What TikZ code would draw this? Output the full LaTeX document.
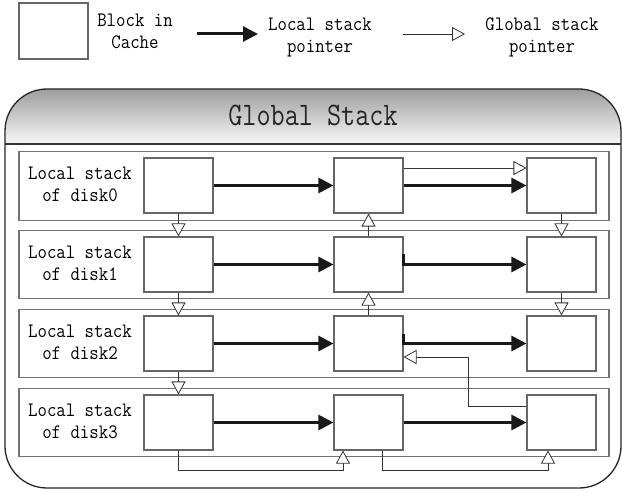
\documentclass[tikz,border=0pt]{standalone}
\usepackage{fontspec}
\usepackage{graphicx}
\usetikzlibrary{arrows.meta,calc}

% slightly taller glyphs for the narrow monospace look
\newcommand{\tallline}[1]{\scalebox{1}[1.12]{#1}}

\begin{document}
\begin{tikzpicture}[x=1pt,y=-1pt,
  block/.style={draw=black!60, line width=1.1pt, fill=white,
    minimum width=69pt, minimum height=55pt, inner sep=0pt},
  rowbox/.style={draw=black!55, line width=1.4pt,
    minimum width=590pt, minimum height=68.5pt, inner sep=0pt},
  lbl/.style={font=\fontsize{18.3}{22.5}\selectfont\ttfamily, align=center,
    text=black, inner sep=0pt},
  lptr/.style={line width=3pt, black!90, -{Triangle[width=15pt,length=15pt]}},
  gptr/.style={line width=0.8pt, black!80,
    -{Triangle[open, width=14pt, length=13pt, fill=white]}},
]
\useasboundingbox (0,0) rectangle (622,492);

% ---- legend ----
\node[block, minimum height=56pt] (key) at (53.5,31) {};
\node[lbl, anchor=base] (keytxt) at (135,49) {\tallline{Block in}\\\tallline{Cache}};
\coordinate (la0) at (197,34);
\coordinate (la1) at (258,34);
\draw[lptr] (la0) -- (la1);
\node[lbl, anchor=base] (lsp) at (320,53) {\tallline{Local stack}\\\tallline{pointer}};
\coordinate (ga0) at (403,34);
\coordinate (ga1) at (465,34);
\draw[gptr] (ga0) -- (ga1);
\node[lbl, anchor=base] (gsp) at (542,53) {\tallline{Global stack}\\\tallline{pointer}};

% ---- global stack frame with shaded header ----
\begin{scope}
  \clip[rounded corners=42pt] (5,89) rectangle (621,488);
  \shade[top color=black!38, bottom color=black!3] (5,89) rectangle (621,144);
\end{scope}
\draw[black!85, line width=1.3pt, rounded corners=42pt] (5,89) rectangle (621,488);
\draw[black!80, line width=1.3pt] (5,144) -- (621,144);
\node[font=\fontsize{27.4}{30}\selectfont\ttfamily, text=black!85] (title)
  at (313,115) {\scalebox{1}[1.2]{Global Stack}};

% ---- one row per disk ----
\foreach \r/\y in {0/186,1/264.5,2/343.5,3/422.5}{
  \node[rowbox] (row\r) at (314,\y) {};
  \node[lbl, anchor=base] (lab\r) at (80,\y+16) {\tallline{Local stack}\\\tallline{of disk\r}};
}

% ---- cached blocks ----
\foreach \r/\y in {0/185.5,1/264.5,2/343.5,3/422.5}
  \foreach \c/\x in {0/178.5,1/368.5,2/561.5}
    \node[block] (b\r\c) at (\x,\y) {};

% ---- local stack pointers ----
\foreach \r in {0,...,3}
  \draw[lptr] (b\r0) -- (b\r1);
\draw[lptr] (b01) -- (b02);
\draw[lptr] ([yshift=10pt]b11.east) -- (b11.east) -- (b12.west);
\draw[lptr] ([yshift=10pt]b21.east) -- (b21.east) -- (b22.west);
\draw[lptr] (b31) -- (b32);

% ---- global stack pointers ----
\draw[gptr] (b00) -- (b10);
\draw[gptr] (b10) -- (b20);
\draw[gptr] (b20) -- (b30);
\draw[gptr] (b11) -- (b01);
\draw[gptr] (b21) -- (b11);
\draw[gptr] (b02) -- (b12);
\draw[gptr] (b12) -- (b22);
\draw[gptr] ([yshift=17.5pt]b01.east) -- ([yshift=17.5pt]b02.west);
\coordinate (turn) at (468,357);
\draw[gptr] ([yshift=16.5pt]b32.west) -| (turn) -- ([yshift=-13.5pt]b21.east);
\draw[gptr] (b30.south) -- ++(0,20) -| ([xshift=-25.5pt]b31.south);
\draw[gptr] ([xshift=13.5pt]b31.south) -- ++(0,20) -| ([xshift=-13.5pt]b32.south);
\end{tikzpicture}
\end{document}
